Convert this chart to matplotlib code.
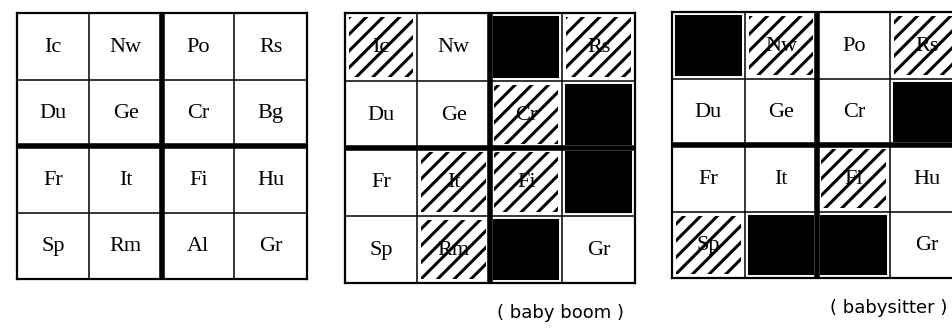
import matplotlib
matplotlib.use("Agg")
import matplotlib.pyplot as plt
from matplotlib.patches import Rectangle

# country codes on the 4x4 grid, row by row
countries = [
    ["Ic", "Nw", "Po", "Rs"],
    ["Du", "Ge", "Cr", "Bg"],
    ["Fr", "It", "Fi", "Hu"],
    ["Sp", "Rm", "Al", "Gr"],
]

# cell state per panel: "" plain, "h" hatched, "s" solid black
plain_states = [
    ["", "", "", ""],
    ["", "", "", ""],
    ["", "", "", ""],
    ["", "", "", ""],
]
babyboom_states = [
    ["h", "", "s", "h"],
    ["", "", "h", "s"],
    ["", "h", "h", "s"],
    ["", "h", "s", ""],
]
babysitter_states = [
    ["s", "h", "", "h"],
    ["", "", "", "s"],
    ["", "", "h", ""],
    ["h", "s", "s", ""],
]
captions = ["", "( baby boom )", "( babysitter )"]

# layout in pixels: left, top, cell width, cell height
panels = [
    (17, 13, 72.5, 66.5),
    (345, 13, 72.5, 67.5),
    (672, 12, 72.75, 66.5),
]
states_all = [plain_states, babyboom_states, babysitter_states]

plt.rcParams["hatch.linewidth"] = 2.2

fig = plt.figure(figsize=(9.53, 3.36), dpi=100)
ax = fig.add_axes([0, 0, 1, 1])
ax.set_xlim(0, 953)
ax.set_ylim(336, 0)
ax.axis("off")

for (x0, y0, w, h), states, cap in zip(panels, states_all, captions):
    for r in range(4):
        for c in range(4):
            cx = x0 + c * w
            cy = y0 + r * h
            st = states[r][c]
            if st != "s":
                ax.text(cx + w / 2, cy + h / 2 + 1, countries[r][c],
                        ha="center", va="center", fontsize=16,
                        family="Liberation Serif", zorder=2)
            if st == "h":
                ax.add_patch(Rectangle((cx + 4, cy + 4), w - 8, h - 8,
                                       facecolor="none", edgecolor="black",
                                       linewidth=0, hatch="//", zorder=3))
            elif st == "s":
                ax.add_patch(Rectangle((cx + 4, cy + 4), w - 8, h - 8,
                                       facecolor="black", edgecolor="black",
                                       linewidth=1.5, zorder=3))
    # thin grid lines
    for k in range(5):
        lw = 1.6 if k in (0, 4) else 1.1
        ax.plot([x0 + k * w, x0 + k * w], [y0, y0 + 4 * h],
                color="black", lw=lw, zorder=4)
        ax.plot([x0, x0 + 4 * w], [y0 + k * h, y0 + k * h],
                color="black", lw=lw, zorder=4)
    # thick middle separators
    ax.plot([x0 + 2 * w, x0 + 2 * w], [y0, y0 + 4 * h],
            color="black", lw=4, solid_capstyle="butt", zorder=5)
    ax.plot([x0, x0 + 4 * w], [y0 + 2 * h, y0 + 2 * h],
            color="black", lw=4, solid_capstyle="butt", zorder=5)
    if cap:
        ax.text(x0 + 3 * w - 2, y0 + 4 * h + 30, cap, ha="center", va="center",
                fontsize=13, family="DejaVu Sans")

fig.savefig("out.png", dpi=100)
